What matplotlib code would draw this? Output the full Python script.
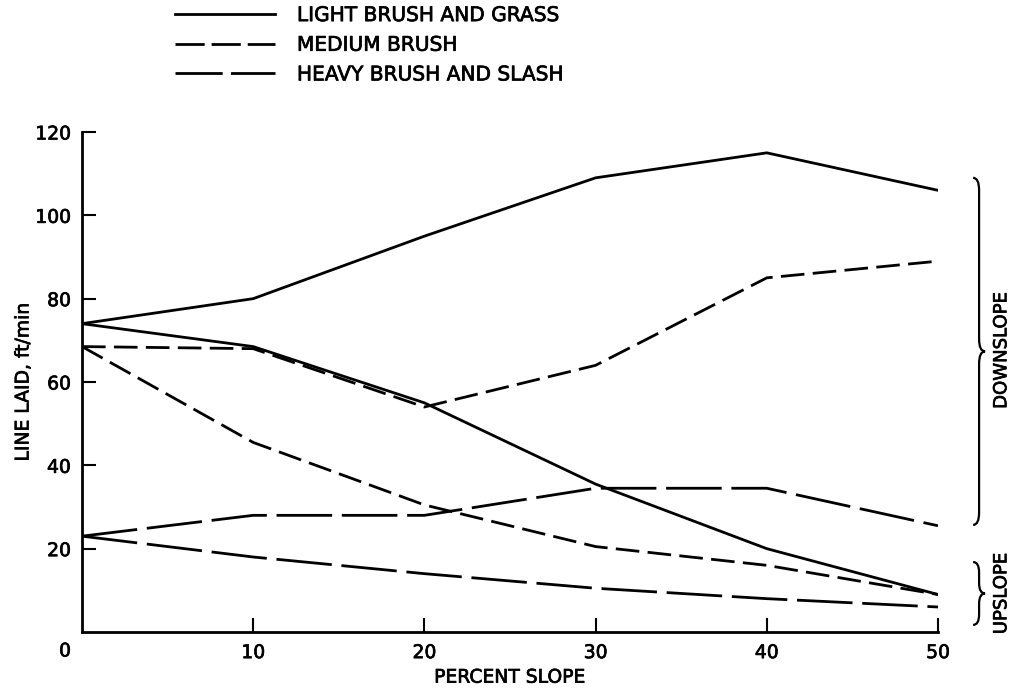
import numpy as np
import matplotlib
matplotlib.use("Agg")
import matplotlib.pyplot as plt
from matplotlib.path import Path
from matplotlib.patches import PathPatch
from matplotlib.lines import Line2D
import matplotlib.patheffects as pe

plt.rcParams['font.family'] = ['DejaVu Sans']
plt.rcParams['lines.scale_dashes'] = False

# percent slope
slope = [0, 10, 20, 30, 40, 50]

# line laid, ft/min
light_down = [74, 80, 95, 109, 115, 106]
light_up = [74, 68.5, 55, 35.5, 20, 9]
medium_down = [68.5, 68, 54, 64, 85, 89]
medium_up = [68.5, 45.5, 30.5, 20.5, 16, 9]
heavy_down = [23, 28, 28, 34.5, 34.5, 25.5]
heavy_up = [23, 18, 14, 10.5, 8, 6]

labels = ['LIGHT BRUSH AND GRASS', 'MEDIUM BRUSH', 'HEAVY BRUSH AND SLASH']

FS = 13.5
LW = 2.0
medium_dash = (17, 6)
heavy_dash = (40, 7)
bold = [pe.withStroke(linewidth=0.5, foreground='black')]

fig = plt.figure(figsize=(10.2, 6.92), dpi=100)
ax = fig.add_axes([82 / 1020, 1 - 632 / 692, (938 - 82) / 1020, (632 - 132) / 692])

ax.plot(slope, light_down, color='black', lw=LW)
ax.plot(slope, light_up, color='black', lw=LW)
ax.plot(slope, medium_down, color='black', lw=LW, dashes=medium_dash)
ax.plot(slope, medium_up, color='black', lw=LW, dashes=medium_dash)
ax.plot(slope, heavy_down, color='black', lw=LW, dashes=heavy_dash)
ax.plot(slope, heavy_up, color='black', lw=LW, dashes=heavy_dash)

ax.set_xlim(0, 50)
ax.set_ylim(0, 120)
ax.set_xticks([10, 20, 30, 40, 50])
ax.set_yticks([20, 40, 60, 80, 100, 120])
ax.tick_params(direction='in', length=10, width=1.5, labelsize=FS, pad=8)
for t in ax.get_xticklabels() + ax.get_yticklabels():
    t.set_path_effects(bold)
for s in ['top', 'right']:
    ax.spines[s].set_visible(False)
for s in ['left', 'bottom']:
    ax.spines[s].set_linewidth(2)

# shared origin label
ax.annotate('0', xy=(0, 0), xytext=(-17, -19), textcoords='offset pixels',
            ha='center', va='center', fontsize=FS, path_effects=bold)

ax.set_xlabel('PERCENT SLOPE', fontsize=FS, labelpad=4, path_effects=bold)
ax.set_ylabel('LINE LAID, ft/min', fontsize=FS, labelpad=2, path_effects=bold)


def brace(ax, y0, y1, x, w, h):
    ym = (y0 + y1) / 2
    verts = [(x - w, y1), (x, y1), (x, y1 - h), (x, ym + h), (x, ym), (x + w, ym),
             (x, ym), (x, ym - h), (x, y0 + h), (x, y0), (x - w, y0)]
    codes = [Path.MOVETO, Path.CURVE3, Path.CURVE3, Path.LINETO, Path.CURVE3, Path.CURVE3,
             Path.CURVE3, Path.CURVE3, Path.LINETO, Path.CURVE3, Path.CURVE3]
    ax.add_patch(PathPatch(Path(verts, codes), fill=False, lw=1.6, color='black', clip_on=False))


brace(ax, 25.7, 109, 52.4, 0.35, 3)
brace(ax, 1.7, 16.8, 52.4, 0.35, 2.5)
ax.text(53.7, 67.5, 'DOWNSLOPE', rotation=90, ha='center', va='center', fontsize=FS - 0.5,
        path_effects=bold)
ax.text(53.7, 9.2, 'UPSLOPE', rotation=90, ha='center', va='center', fontsize=FS - 0.5,
        path_effects=bold)

# legend keys with dash lengths that fit the key width
handles = [Line2D([], [], color='black', lw=LW),
           Line2D([], [], color='black', lw=LW, dashes=(21, 5)),
           Line2D([], [], color='black', lw=LW, dashes=(34, 6))]
leg = fig.legend(handles=handles, labels=labels, loc='upper left',
                 bbox_to_anchor=(161 / 1020, 1 + 8 / 692),
                 frameon=False, fontsize=14.5, handlelength=4.95, handletextpad=1.1,
                 labelspacing=0.53, borderpad=0.2)
for t in leg.get_texts():
    t.set_path_effects(bold)

fig.savefig('out.png', dpi=100)
